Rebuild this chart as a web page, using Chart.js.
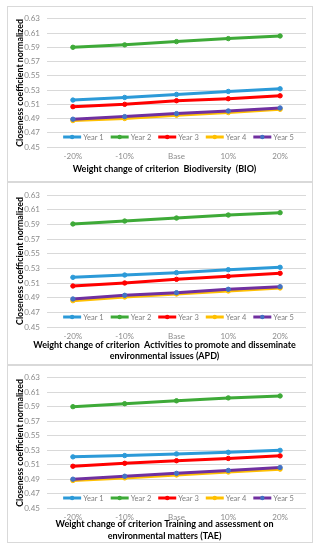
<!DOCTYPE html>
<html>
<head>
<meta charset="utf-8">
<script src="https://cdn.jsdelivr.net/npm/chart.js@4/dist/chart.umd.min.js"></script>
<style>
  body { margin: 0; background: #fff; width: 324px; height: 550px; position: relative; overflow: hidden; }
  .panel { position: absolute; left: 7px; width: 304px; border: 1px solid #d9d9d9; background: #fff; }
  .panel canvas { display: block; }
</style>
</head>
<body>
<div class="panel" style="top:6px;height:174px"><canvas id="chartBio" width="304" height="174"></canvas></div>
<div class="panel" style="top:182px;height:181px"><canvas id="chartApd" width="304" height="181"></canvas></div>
<div class="panel" style="top:365px;height:176px"><canvas id="chartTae" width="304" height="176"></canvas></div>
<script>
/* global Chart */

const categories = ['-20%', '-10%', 'Base', '10%', '20%']
const seriesNames = ['Year 1', 'Year 2', 'Year 3', 'Year 4', 'Year 5']
const yTicks = [0.45, 0.47, 0.49, 0.51, 0.53, 0.55, 0.57, 0.59, 0.61, 0.63]

// Biodiversity (BIO)
const bioYear1 = [0.5159, 0.5196, 0.5238, 0.5280, 0.5317]
const bioYear2 = [0.5900, 0.5934, 0.5980, 0.6022, 0.6059]
const bioYear3 = [0.5066, 0.5099, 0.5150, 0.5178, 0.5219]
const bioYear4 = [0.4871, 0.4900, 0.4946, 0.4983, 0.5029]
const bioYear5 = [0.4890, 0.4927, 0.4969, 0.5006, 0.5048]

// Activities to promote and disseminate environmental issues (APD)
const apdYear1 = [0.5177, 0.5209, 0.5241, 0.5282, 0.5314]
const apdYear2 = [0.5905, 0.5945, 0.5986, 0.6027, 0.6059]
const apdYear3 = [0.5059, 0.5100, 0.5150, 0.5191, 0.5232]
const apdYear4 = [0.4859, 0.4909, 0.4950, 0.4991, 0.5032]
const apdYear5 = [0.4882, 0.4932, 0.4968, 0.5014, 0.5050]

// Training and assessment on environmental matters (TAE)
const taeYear1 = [0.5207, 0.5225, 0.5248, 0.5270, 0.5297]
const taeYear2 = [0.5901, 0.5942, 0.5982, 0.6022, 0.6049]
const taeYear3 = [0.5077, 0.5118, 0.5154, 0.5185, 0.5221]
const taeYear4 = [0.4880, 0.4916, 0.4957, 0.4997, 0.5037]
const taeYear5 = [0.4898, 0.4939, 0.4979, 0.5019, 0.5060]

const lineColors = ['#2c9ad8', '#3eaa38', '#ff0000', '#ffc000', '#7030a0']
const pointColors = ['#2c9ad8', '#3eaa38', '#ff0000', '#ffc000', '#4472c4']

const FONT = 'Lato, "Open Sans", sans-serif'

// legend drawn inside the plot area, like the Excel original
const legendInside = {
  id: 'legendInside',
  afterDatasetsDraw (chart) {
    const { ctx, chartArea } = chart
    const lineLen = 18
    const itemGap = 7
    const datasets = chart.data.datasets
    ctx.save()
    ctx.font = '7.5px ' + FONT
    const widths = datasets.map((ds) => lineLen + 2 + ctx.measureText(ds.label).width)
    const total = widths.reduce((s, w) => s + w, 0) + itemGap * (widths.length - 1)
    let x = (chartArea.left + chartArea.right) / 2 - total / 2 + 2
    const y = chartArea.bottom - 10
    datasets.forEach((ds, i) => {
      ctx.strokeStyle = ds.borderColor
      ctx.lineWidth = 3
      ctx.beginPath()
      ctx.moveTo(x, y)
      ctx.lineTo(x + lineLen, y)
      ctx.stroke()
      ctx.fillStyle = ds.pointBackgroundColor
      ctx.beginPath()
      ctx.arc(x + lineLen / 2, y, 2.2, 0, Math.PI * 2)
      ctx.fill()
      ctx.fillStyle = '#7f7f7f'
      ctx.textBaseline = 'middle'
      ctx.textAlign = 'left'
      ctx.fillText(ds.label, x + lineLen + 2, y + 0.5)
      x += widths[i] + itemGap
    })
    ctx.restore()
  }
}

// x axis caption, centred a little left of the plot like the original
const xCaption = {
  id: 'xCaption',
  afterDraw (chart, args, opts) {
    const { ctx, chartArea } = chart
    ctx.save()
    ctx.font = 'bold 9px ' + FONT
    ctx.fillStyle = '#000'
    ctx.textAlign = 'center'
    ctx.textBaseline = 'middle'
    const cx = (chartArea.left + chartArea.right) / 2 - 12
    opts.lines.forEach((line, i) => {
      ctx.fillText(line, cx, opts.y + i * opts.lineGap)
    })
    ctx.restore()
  }
}

function buildDatasets (series) {
  return series.map((values, i) => ({
    label: seriesNames[i],
    data: values,
    borderColor: lineColors[i],
    backgroundColor: lineColors[i],
    pointBackgroundColor: pointColors[i],
    pointBorderColor: pointColors[i],
    borderWidth: 3,
    pointRadius: 2.2,
    pointBorderWidth: 1,
    order: series.length - i,
    tension: 0
  }))
}

function buildChart (panel) {
  const ctx = document.getElementById(panel.canvasId).getContext('2d')
  return new Chart(ctx, {
    type: 'line',
    data: {
      labels: categories,
      datasets: buildDatasets(panel.series)
    },
    plugins: [legendInside, xCaption],
    options: {
      responsive: false,
      animation: false,
      layout: { padding: { top: panel.top, right: 6, left: 0, bottom: 0 } },
      plugins: {
        legend: { display: false },
        tooltip: { enabled: false },
        xCaption: { lines: panel.title, y: panel.titleY, lineGap: panel.lineGap }
      },
      scales: {
        x: {
          offset: true,
          grid: { display: false, drawTicks: false },
          border: { display: false },
          ticks: { color: '#8c8c8c', font: { family: FONT, size: 8 }, padding: 5, maxRotation: 0 },
          afterFit (scale) { scale.height = panel.xHeight }
        },
        y: {
          min: 0.45,
          max: 0.63,
          afterBuildTicks (scale) { scale.ticks = yTicks.map((v) => ({ value: v })) },
          grid: { color: '#d9d9d9', lineWidth: 1, drawTicks: false },
          border: { display: false },
          ticks: {
            color: '#8c8c8c',
            font: { family: FONT, size: 8 },
            padding: 7,
            callback: (v) => Number(v).toFixed(2)
          },
          title: {
            display: true,
            text: 'Closeness coefficient normalized',
            color: '#000',
            font: { family: FONT, size: 8.8, weight: 'bold' },
            padding: { top: 7, bottom: 0 }
          },
          afterFit (scale) { scale.width = 39 }
        }
      }
    }
  })
}

const panels = [
  {
    canvasId: 'chartBio',
    title: ['Weight change of criterion  Biodiversity  (BIO)'],
    series: [bioYear1, bioYear2, bioYear3, bioYear4, bioYear5],
    top: 10,
    xHeight: 34,
    titleY: 162,
    lineGap: 11
  },
  {
    canvasId: 'chartApd',
    title: ['Weight change of criterion  Activities to promote and disseminate', 'environmental issues (APD)'],
    series: [apdYear1, apdYear2, apdYear3, apdYear4, apdYear5],
    top: 12,
    xHeight: 37,
    titleY: 162,
    lineGap: 11
  },
  {
    canvasId: 'chartTae',
    title: ['Weight change of criterion Training and assessment on', 'environmental matters (TAE)'],
    series: [taeYear1, taeYear2, taeYear3, taeYear4, taeYear5],
    top: 8,
    xHeight: 34,
    titleY: 158,
    lineGap: 12.5
  }
]

panels.forEach(buildChart)
</script>
</body>
</html>
